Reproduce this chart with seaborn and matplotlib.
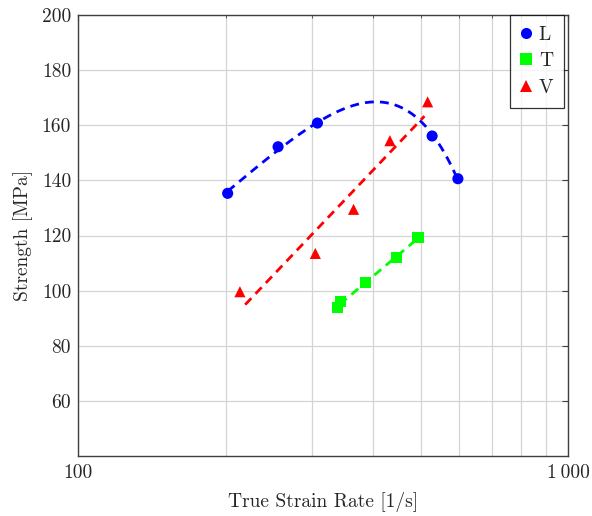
import numpy as np
import pandas as pd
import seaborn as sns
import matplotlib
matplotlib.use("Agg")
import matplotlib.pyplot as plt

# Measured strength vs. true strain rate for three orientations
series = ["L", "T", "V"]
rate_L = [202, 256, 308, 528, 596]
strength_L = [135.3, 152.2, 160.8, 156.1, 140.6]
rate_T = [339, 344, 386, 446, 494]
strength_T = [93.9, 96.0, 103.0, 111.9, 119.2]
rate_V = [214, 305, 365, 433, 517]
strength_V = [99.6, 113.5, 129.5, 154.4, 168.5]

x_ticks = [100, 1000]
x_ticklabels = ["100", "1\u2009000"]
y_ticks = [60, 80, 100, 120, 140, 160, 180, 200]

colors = {"L": "#0000ff", "T": "#00ff00", "V": "#ff0000"}
markers = {"L": "o", "T": "s", "V": "^"}

sns.set_style("white")
plt.rcParams["font.family"] = ["cmr10", "DejaVu Sans"]
plt.rcParams["axes.formatter.use_mathtext"] = True
plt.rcParams["axes.unicode_minus"] = False

points = pd.DataFrame({
    "rate": rate_L + rate_T + rate_V,
    "strength": strength_L + strength_T + strength_V,
    "series": ["L"] * len(rate_L) + ["T"] * len(rate_T) + ["V"] * len(rate_V),
})

# Trend curves: quadratic in rate for L, linear in log(rate) for T and V
curves = []
xl = np.array(rate_L, float)
cL = np.polyfit(xl, strength_L, 2)
gx = np.linspace(xl.min(), xl.max(), 200)
curves.append(pd.DataFrame({"rate": gx, "strength": np.polyval(cL, gx), "series": "L"}))
for name, xr, yr, lo, hi in [("T", rate_T, strength_T, 1.01, 0.985),
                             ("V", rate_V, strength_V, 1.025, 0.985)]:
    xr = np.array(xr, float)
    c = np.polyfit(np.log10(xr), yr, 1)
    gx = np.geomspace(xr.min() * lo, xr.max() * hi, 100)
    curves.append(pd.DataFrame({"rate": gx, "strength": np.polyval(c, np.log10(gx)), "series": name}))
curves = pd.concat(curves, ignore_index=True)

fig = plt.figure(figsize=(5.92, 5.16), dpi=100)
ax = fig.add_axes([0.1318, 0.1163, 0.8277, 0.8546])
ax.set_xscale("log")

sns.lineplot(data=curves, x="rate", y="strength", hue="series", palette=colors,
             ax=ax, legend=False, linewidth=2.0, sort=False, estimator=None)
for line in ax.get_lines():
    line.set_dashes((3.2, 2.2))

sns.scatterplot(data=points, x="rate", y="strength", hue="series", style="series",
                palette=colors, markers=markers, s=64, linewidth=0, ax=ax, zorder=5)

ax.set_xlim(100, 1000)
ax.set_ylim(40, 200)
ax.set_xticks(x_ticks)
ax.set_xticklabels(x_ticklabels)
ax.set_xticks([200, 300, 400, 500, 600, 700, 800, 900], minor=True)
ax.xaxis.set_minor_formatter(matplotlib.ticker.NullFormatter())
ax.set_yticks(y_ticks)
ax.set_yticklabels([str(v) for v in y_ticks])

ax.grid(True, which="both", color="#d4d4d4", linewidth=0.9)
ax.set_axisbelow(True)
for s in ax.spines.values():
    s.set_color("#404040")
    s.set_linewidth(1.0)
ax.tick_params(which="both", direction="in", top=True, right=True,
               color="#404040", labelsize=14, labelcolor="#262626")
ax.tick_params(which="major", length=4)
ax.tick_params(which="minor", length=2.5)
ax.tick_params(axis="x", pad=6)
ax.tick_params(axis="y", pad=5)

ax.set_xlabel("True Strain Rate [1/s]", fontsize=14, color="#262626", labelpad=7)
ax.set_ylabel("Strength [MPa]", fontsize=14, color="#262626", labelpad=6)

handles, labels = ax.get_legend_handles_labels()
leg = ax.legend(handles, labels, loc="upper right", bbox_to_anchor=(0.992, 1.0),
                borderaxespad=0, fontsize=14, frameon=True, fancybox=False,
                handlelength=0.6, handletextpad=0.35, borderpad=0.55,
                labelspacing=0.45, markerscale=1.0)
leg.get_frame().set_edgecolor("#000000")
leg.get_frame().set_linewidth(0.9)

fig.savefig("out.png", dpi=100)
